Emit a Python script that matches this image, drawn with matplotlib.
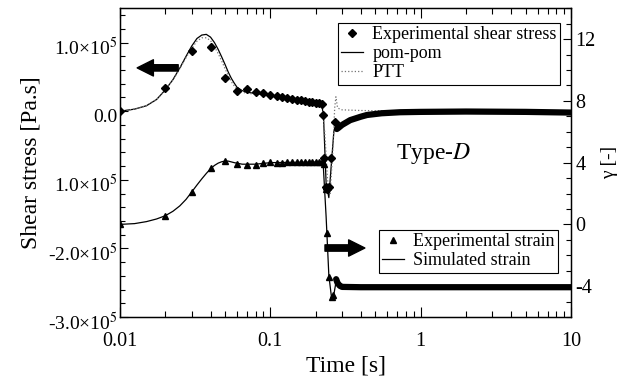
import numpy as np
import matplotlib.pyplot as plt
import matplotlib.transforms as mtransforms
from matplotlib.ticker import FixedLocator, MultipleLocator, LogLocator, NullFormatter

plt.rcParams["font.family"] = ["Liberation Serif", "DejaVu Serif"]
plt.rcParams["mathtext.fontset"] = "stix"
plt.rcParams["axes.unicode_minus"] = False

# shear stress, in units of 1e5 Pa.s
t_stress_exp = [0.01, 0.02, 0.03, 0.04, 0.05, 0.06, 0.07, 0.08, 0.09, 0.10, 0.11,
                0.12, 0.13, 0.14, 0.15, 0.16, 0.17, 0.18, 0.19, 0.20, 0.21, 0.22,
                0.223, 0.228, 0.234, 0.240, 0.246, 0.255, 0.268]
stress_exp = [0.0, 0.34, 0.88, 0.93, 0.49, 0.30, 0.32, 0.28, 0.26, 0.24, 0.22,
              0.205, 0.19, 0.18, 0.17, 0.16, 0.15, 0.14, 0.13, 0.125, 0.115, 0.11,
              -0.05, -0.68, -1.10, -1.13, -1.10, -0.68, -0.16]
# long-time part, sampled so densely that the markers merge into a band
t_stress_tail = [0.277, 0.285, 0.30, 0.34, 0.40, 0.44, 0.55, 0.73, 1.0, 2.0, 5.0, 10.0]
stress_tail = [-0.26, -0.24, -0.20, -0.13, -0.08, -0.055, -0.03, -0.015, -0.01, -0.005, -0.01, -0.02]

t_pompom = [0.01, 0.0125, 0.015, 0.0175, 0.02, 0.0225, 0.025, 0.0275, 0.03, 0.0325,
            0.035, 0.0375, 0.04, 0.0425, 0.045, 0.0475, 0.05, 0.0525, 0.055, 0.0575,
            0.06, 0.065, 0.07, 0.08, 0.10, 0.15, 0.20, 0.22, 0.226, 0.235, 0.245,
            0.255, 0.265, 0.28, 0.30, 0.35, 0.40, 0.50, 0.70, 1.0, 2.0, 10.0]
stress_pompom = [0.0, 0.03, 0.08, 0.17, 0.31, 0.46, 0.63, 0.80, 0.95, 1.06,
                 1.11, 1.12, 1.08, 1.00, 0.90, 0.79, 0.68, 0.57, 0.48, 0.41,
                 0.35, 0.30, 0.275, 0.26, 0.23, 0.17, 0.12, 0.11, -0.10, -1.05, -1.26,
                 -0.75, -0.28, -0.22, -0.17, -0.11, -0.08, -0.05, -0.03, -0.02, -0.01, -0.01]

t_ptt = [0.01, 0.0125, 0.015, 0.0175, 0.02, 0.0225, 0.025, 0.0275, 0.03, 0.0325,
         0.035, 0.0375, 0.04, 0.0425, 0.045, 0.0475, 0.05, 0.0525, 0.055, 0.0575,
         0.06, 0.065, 0.07, 0.10, 0.15, 0.20, 0.22, 0.23, 0.24, 0.25, 0.26, 0.268,
         0.273, 0.28, 0.29, 0.30, 0.40, 1.0, 10.0]
stress_ptt = [0.0, 0.03, 0.08, 0.17, 0.31, 0.46, 0.62, 0.78, 0.92, 1.02,
              1.07, 1.07, 1.03, 0.94, 0.84, 0.73, 0.62, 0.52, 0.43, 0.37,
              0.32, 0.28, 0.26, 0.23, 0.17, 0.12, 0.11, -0.30, -1.00, -1.20, -0.60, 0.05,
              0.21, 0.05, 0.03, 0.02, 0.01, 0.0, 0.0]

# strain (right axis)
t_strain_exp = [0.01, 0.02, 0.03, 0.04, 0.05, 0.06, 0.07, 0.08, 0.09, 0.10, 0.11,
                0.12, 0.13, 0.14, 0.15, 0.16, 0.17, 0.18, 0.19, 0.20, 0.21, 0.22,
                0.226, 0.234, 0.238, 0.247, 0.256, 0.262]
strain_exp = [0.05, 0.54, 2.1, 3.65, 4.1, 3.9, 3.83, 3.83, 3.95, 4.02, 4.0,
              4.0, 4.02, 4.02, 4.03, 4.03, 4.04, 4.04, 4.05, 4.05, 4.05, 4.05,
              3.9, 2.3, -0.56, -3.4, -4.7, -4.6]
t_strain_tail = [0.274, 0.28, 0.29, 0.30, 0.40, 1.0, 10.0]
strain_tail = [-3.55, -3.8, -3.98, -4.05, -4.07, -4.07, -4.07]

t_strain_sim = [0.01, 0.0125, 0.015, 0.0175, 0.02, 0.0225, 0.025, 0.0275, 0.03,
                0.0325, 0.035, 0.0375, 0.04, 0.0425, 0.045, 0.0475, 0.05, 0.0525,
                0.0575, 0.065, 0.08, 0.10, 0.22, 0.225, 0.235, 0.245, 0.255, 0.265,
                0.275, 0.29, 0.30, 10.0]
strain_sim = [0.0, 0.05, 0.18, 0.35, 0.56, 0.85, 1.2, 1.62, 2.1,
              2.55, 2.95, 3.3, 3.6, 3.82, 3.97, 4.06, 4.1, 4.1,
              4.0, 3.9, 3.9, 4.0, 4.05, 3.8, 0.5, -3.3, -4.7, -4.5,
              -3.6, -3.95, -4.05, -4.05]

stress_ticks = [-3e5, -2e5, -1e5, 0, 1e5]
stress_ticklabels = ["-3.0×10$^5$", "-2.0×10$^5$", "1.0×10$^5$", "0.0", "1.0×10$^5$"]
time_ticks = [0.01, 0.1, 1, 10]
time_ticklabels = ["0.01", "0.1", "1", "10"]
strain_ticks = [-4, 0, 4, 8, 12]

E5 = 1e5

fig = plt.figure(figsize=(6.25, 3.79), dpi=100)
ax = fig.add_axes([0.192, 0.1636, 0.7216, 0.8145])
ax2 = ax.twinx()

# stress side
ax.plot(t_pompom, np.array(stress_pompom) * E5, color="black", lw=0.9, zorder=2)
ax.plot(t_ptt, np.array(stress_ptt) * E5, color="0.45", lw=0.9, ls=":", zorder=2)
ax.plot(t_stress_tail, np.array(stress_tail) * E5, color="black", lw=4.5,
        solid_capstyle="round", zorder=3)
ax.plot(t_stress_exp, np.array(stress_exp) * E5, ls="none", marker="D",
        ms=4, color="black", zorder=4)

# strain side
ax2.plot(t_strain_sim, strain_sim, color="black", lw=0.9)
ax2.plot(t_strain_tail, strain_tail, color="black", lw=4.5, solid_capstyle="round")
ax2.plot(t_strain_exp, strain_exp, ls="none", marker="^", ms=5, color="black")

ax.set_xscale("log")
ax.set_xlim(0.01, 10)
ax.set_ylim(-3e5, 1.5e5)
ax2.set_ylim(-6, 14)

ax.xaxis.set_major_locator(FixedLocator(time_ticks))
ax.set_xticklabels(time_ticklabels)
ax.xaxis.set_minor_locator(LogLocator(base=10, subs=np.arange(2, 10)))
ax.xaxis.set_minor_formatter(NullFormatter())

ax.yaxis.set_major_locator(FixedLocator(stress_ticks))
ax.set_yticklabels(stress_ticklabels)
ax.yaxis.set_minor_locator(MultipleLocator(2e4))

ax2.yaxis.set_major_locator(FixedLocator(strain_ticks))
ax2.yaxis.set_minor_locator(MultipleLocator(1))

ax.tick_params(axis="both", which="both", direction="in", top=True, width=0.8)
ax.tick_params(axis="x", which="major", length=7, labelsize=14.5, pad=11)
ax.tick_params(axis="x", which="minor", length=4)
ax.tick_params(axis="y", which="major", length=6, labelsize=14, pad=2)
ax.tick_params(axis="y", which="minor", length=3.5)
ax2.tick_params(axis="y", which="both", direction="in", width=0.8)
ax2.tick_params(axis="y", which="major", length=6, labelsize=14.5, pad=3)
ax2.tick_params(axis="y", which="minor", length=3.5)

shift = mtransforms.ScaledTranslation(0, -4 / 100, fig.dpi_scale_trans)
for lab in ax.get_yticklabels():
    lab.set_transform(lab.get_transform() + shift)

for sp in ax.spines.values():
    sp.set_linewidth(1.0)

ax.set_xlabel("Time [s]", fontsize=17, labelpad=3)
ax.set_ylabel("Shear stress [Pa.s]", fontsize=17, labelpad=4)
ax2.set_ylabel("γ [-]", fontsize=14, labelpad=4)

ax2.text(0.695, 0.53, "Type-$D$", transform=ax.transAxes, fontsize=17,
         ha="center", va="center")

# direction arrows
arrow = dict(arrowstyle="simple,head_length=0.9,head_width=0.9,tail_width=0.35",
             color="black", mutation_scale=13, shrinkA=0, shrinkB=0)
ax2.annotate("", xy=(0.038, 0.807), xytext=(0.129, 0.807),
             xycoords="axes fraction", textcoords="axes fraction", arrowprops=arrow)
ax2.annotate("", xy=(0.543, 0.2235), xytext=(0.4545, 0.2235),
             xycoords="axes fraction", textcoords="axes fraction", arrowprops=arrow)

h_exp = plt.Line2D([], [], ls="none", marker="D", ms=4, color="black")
h_pp = plt.Line2D([], [], color="black", lw=0.9)
h_ptt = plt.Line2D([], [], color="0.45", lw=0.9, ls=":")
leg1 = ax2.legend([h_exp, h_pp, h_ptt], ["Experimental shear stress", "pom-pom", "PTT"],
                  loc="upper right", bbox_to_anchor=(0.976, 0.953), fontsize=13,
                  frameon=True, fancybox=False, edgecolor="black", framealpha=1,
                  borderpad=0.2, labelspacing=0.1, handlelength=1.2,
                  handletextpad=0.5, borderaxespad=0)
leg1.get_frame().set_linewidth(0.8)
ax2.add_artist(leg1)

h_strain = plt.Line2D([], [], ls="none", marker="^", ms=5, color="black")
h_sim = plt.Line2D([], [], color="black", lw=0.9)
leg2 = ax2.legend([h_strain, h_sim], ["Experimental strain", "Simulated strain"],
                  loc="lower right", bbox_to_anchor=(0.971, 0.1435), fontsize=13,
                  frameon=True, fancybox=False, edgecolor="black", framealpha=1,
                  borderpad=0.2, labelspacing=0.1, handlelength=1.2,
                  handletextpad=0.5, borderaxespad=0)
leg2.get_frame().set_linewidth(0.8)

fig.savefig("out.png", dpi=100)
